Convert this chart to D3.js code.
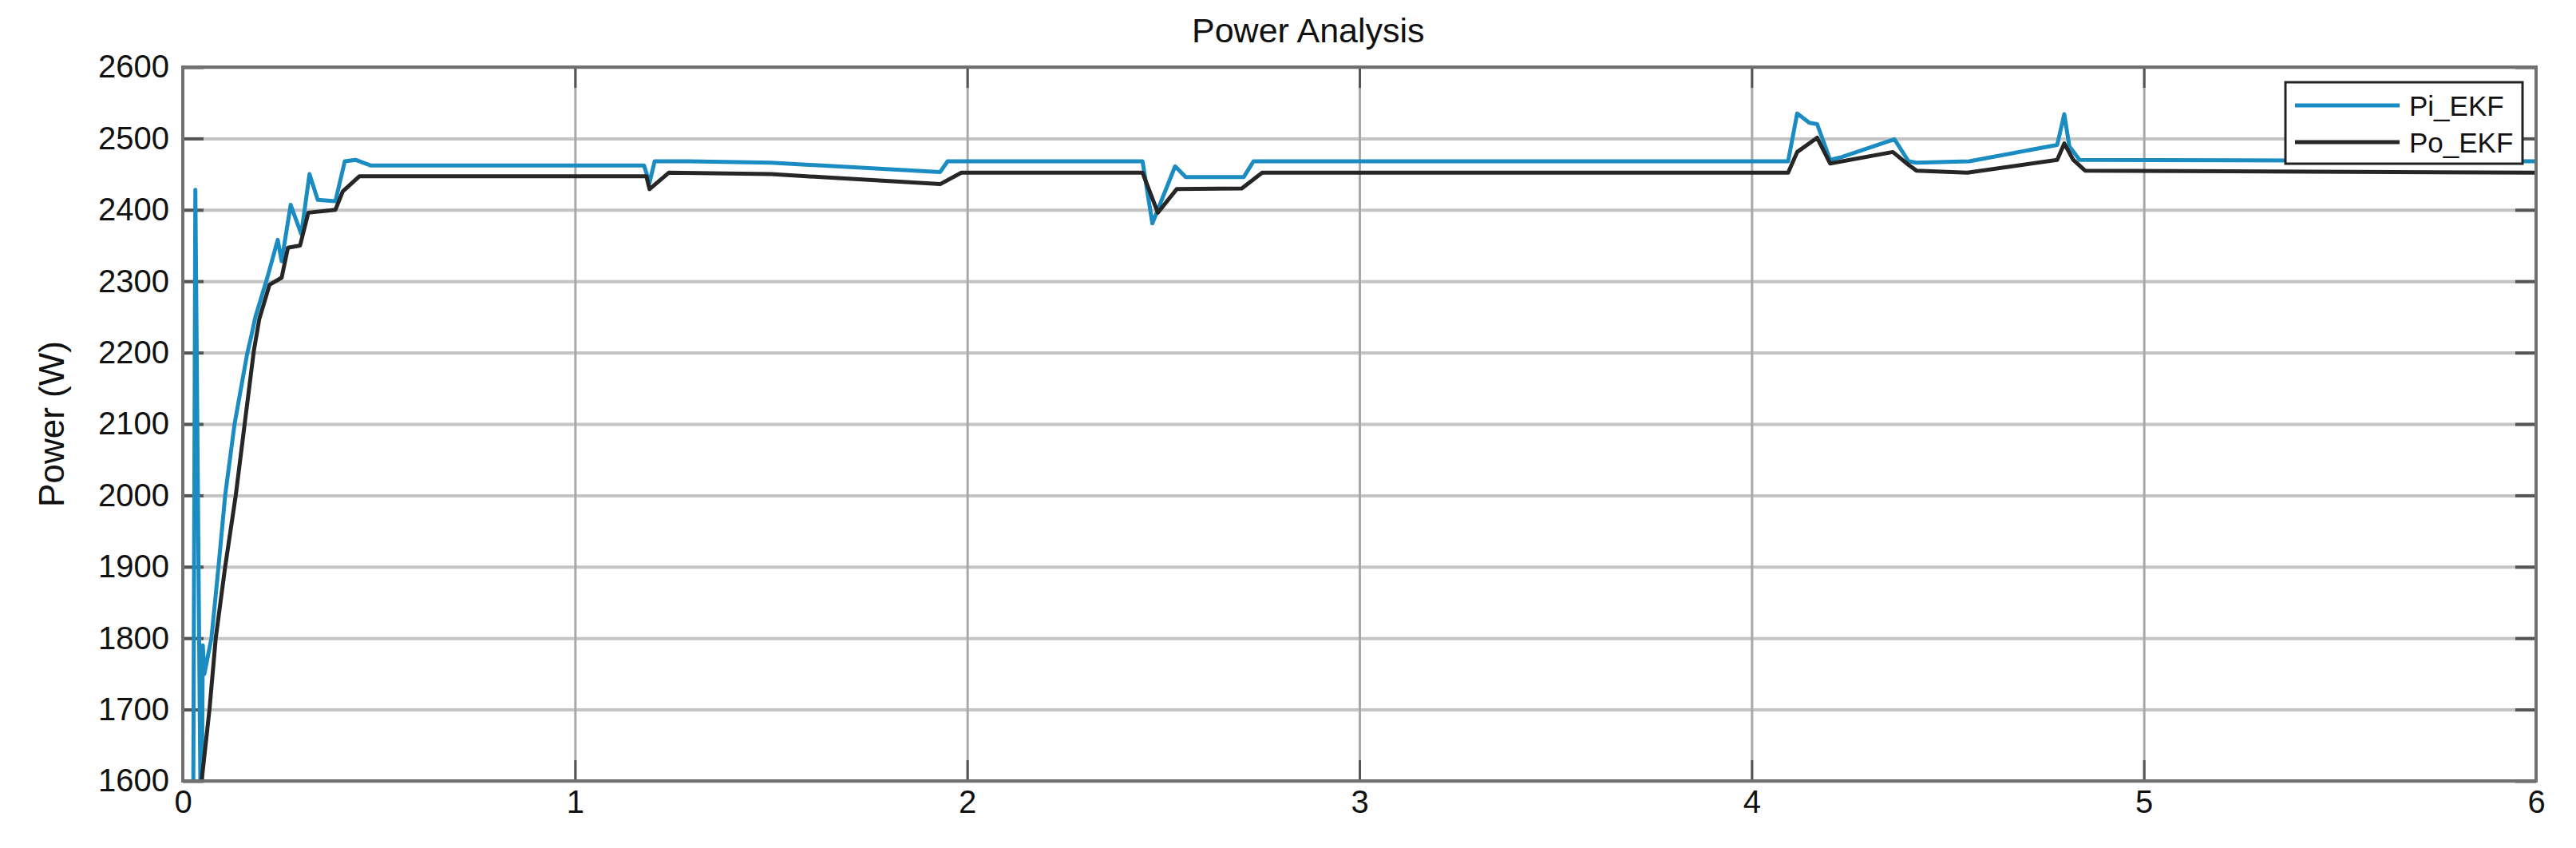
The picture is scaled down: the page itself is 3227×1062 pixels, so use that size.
<!DOCTYPE html>
<html>
<head>
<meta charset="utf-8">
<script src="https://cdn.jsdelivr.net/npm/d3@7"></script>
<style>
  body { margin: 0; background: #fff; }
  text { font-family: "Liberation Sans", Arial, sans-serif; fill: #111; }
</style>
</head>
<body>
<div id="chart"></div>
<script>
// ---- data ----
const xTicks = [0, 1, 2, 3, 4, 5, 6];
const yTicks = [1600, 1700, 1800, 1900, 2000, 2100, 2200, 2300, 2400, 2500, 2600];
const seriesNames = ["Pi_EKF", "Po_EKF"];

// Pi_EKF (input power) time / value pairs
const piTime = [0, 0.025, 0.032, 0.047, 0.051, 0.055, 0.073, 0.091, 0.108, 0.132, 0.164, 0.175, 0.185,
  0.216, 0.242, 0.252, 0.275, 0.302, 0.323, 0.344, 0.389, 0.413, 0.44, 0.48, 1.176, 1.19, 1.203,
  1.29, 1.5, 1.931, 1.95, 2.447, 2.472, 2.53, 2.557, 2.705, 2.73, 4.093, 4.116, 4.147, 4.167, 4.2,
  4.23, 4.364, 4.4, 4.42, 4.555, 4.779, 4.797, 4.81, 4.836, 6];
const piPower = [1300, 1300, 2428, 1450, 1790, 1750, 1800, 1900, 2000, 2100, 2198, 2224, 2250,
  2306, 2358, 2328, 2407, 2366, 2450, 2414, 2412, 2468, 2470, 2462, 2462, 2438, 2468,
  2468, 2466, 2453, 2468, 2468, 2381, 2461, 2446, 2446, 2468, 2468, 2535, 2522, 2520, 2470,
  2474, 2499, 2468, 2466, 2468, 2491, 2534, 2489, 2470, 2468];

// Po_EKF (output power)
const poTime = [0, 0.04, 0.048, 0.068, 0.084, 0.108, 0.135, 0.16, 0.181, 0.195, 0.221, 0.252, 0.268,
  0.299, 0.32, 0.389, 0.408, 0.45, 1.182, 1.19, 1.239, 1.5, 1.931, 1.985, 2.447, 2.486, 2.534,
  2.7, 2.752, 4.093, 4.116, 4.167, 4.2, 4.36, 4.4, 4.42, 4.55, 4.779, 4.797, 4.82, 4.85, 6];
const poPower = [1200, 1450, 1600, 1700, 1800, 1900, 2000, 2110, 2202, 2247, 2295, 2305, 2347,
  2350, 2396, 2400, 2426, 2447, 2447, 2429, 2452, 2450, 2436, 2452, 2452, 2396, 2429,
  2430, 2452, 2452, 2481, 2501, 2465, 2481, 2463, 2455, 2452, 2470, 2493, 2470, 2455, 2452];

const colors = ["#1a8cc2", "#262626"];

// ---- layout ----
const svgWidth = 3227, svgHeight = 1062;
const plot = { left: 229, right: 3177, top: 84, bottom: 978 };

const svg = d3.select("#chart")
  .append("svg")
  .attr("width", svgWidth)
  .attr("height", svgHeight);

const x = d3.scaleLinear().domain([0, 6]).range([plot.left, plot.right]);
const y = d3.scaleLinear().domain([1600, 2600]).range([plot.bottom, plot.top]);

// grid lines
svg.append("g")
  .attr("class", "y-grid")
  .attr("transform", `translate(${plot.left},0)`)
  .call(d3.axisLeft(y).tickValues(yTicks).tickSize(-(plot.right - plot.left)).tickFormat(""))
  .call(g => g.select(".domain").remove())
  .call(g => g.selectAll("line").attr("stroke", "#c4c4c4").attr("stroke-width", 4));

svg.append("g")
  .attr("class", "x-grid")
  .attr("transform", `translate(0,${plot.bottom})`)
  .call(d3.axisBottom(x).tickValues(xTicks).tickSize(-(plot.bottom - plot.top)).tickFormat(""))
  .call(g => g.select(".domain").remove())
  .call(g => g.selectAll("line").attr("stroke", "#a8a8a8").attr("stroke-width", 3));

// inward tick marks on all four sides (matlab style)
const tickLen = 26;
const tickColor = "#555";
svg.append("g")
  .call(d3.axisLeft(y).tickValues(yTicks).tickSize(-tickLen).tickFormat(""))
  .attr("transform", `translate(${plot.left},0)`)
  .call(g => g.select(".domain").remove())
  .call(g => g.selectAll("line").attr("stroke", tickColor).attr("stroke-width", 4));
svg.append("g")
  .call(d3.axisRight(y).tickValues(yTicks).tickSize(-tickLen).tickFormat(""))
  .attr("transform", `translate(${plot.right},0)`)
  .call(g => g.select(".domain").remove())
  .call(g => g.selectAll("line").attr("stroke", tickColor).attr("stroke-width", 4));
svg.append("g")
  .call(d3.axisBottom(x).tickValues(xTicks).tickSize(-tickLen).tickFormat(""))
  .attr("transform", `translate(0,${plot.bottom})`)
  .call(g => g.select(".domain").remove())
  .call(g => g.selectAll("line").attr("stroke", tickColor).attr("stroke-width", 3));
svg.append("g")
  .call(d3.axisTop(x).tickValues(xTicks).tickSize(-tickLen).tickFormat(""))
  .attr("transform", `translate(0,${plot.top})`)
  .call(g => g.select(".domain").remove())
  .call(g => g.selectAll("line").attr("stroke", tickColor).attr("stroke-width", 3));

// lines
svg.append("clipPath")
  .attr("id", "plot-clip")
  .append("rect")
  .attr("x", plot.left)
  .attr("y", plot.top)
  .attr("width", plot.right - plot.left)
  .attr("height", plot.bottom - plot.top);

const line = d3.line()
  .x(d => x(d[0]))
  .y(d => y(d[1]));

const series = [
  d3.zip(piTime, piPower),
  d3.zip(poTime, poPower)
];

svg.append("g")
  .attr("clip-path", "url(#plot-clip)")
  .selectAll("path")
  .data(series)
  .join("path")
  .attr("d", line)
  .attr("fill", "none")
  .attr("stroke", (d, i) => colors[i])
  .attr("stroke-width", 5)
  .attr("stroke-linejoin", "round");

// box
svg.append("rect")
  .attr("x", plot.left)
  .attr("y", plot.top)
  .attr("width", plot.right - plot.left)
  .attr("height", plot.bottom - plot.top)
  .attr("fill", "none")
  .attr("stroke", "#707070")
  .attr("stroke-width", 4);

// tick labels
const intFormat = d3.format("d");
svg.append("g")
  .attr("transform", `translate(${plot.left},0)`)
  .call(d3.axisLeft(y).tickValues(yTicks).tickSize(0).tickPadding(17).tickFormat(intFormat))
  .call(g => g.select(".domain").remove())
  .call(g => g.selectAll("text").attr("font-size", 40).attr("font-family", "Liberation Sans, Arial, sans-serif").attr("fill", "#111"));

svg.append("g")
  .attr("transform", `translate(0,${plot.bottom})`)
  .call(d3.axisBottom(x).tickValues(xTicks).tickSize(0).tickPadding(12).tickFormat(intFormat))
  .call(g => g.select(".domain").remove())
  .call(g => g.selectAll("text").attr("font-size", 40).attr("font-family", "Liberation Sans, Arial, sans-serif").attr("fill", "#111"));

// title and axis label
svg.append("text")
  .attr("x", 1493)
  .attr("y", 53)
  .attr("font-size", 43)
  .text("Power Analysis");

svg.append("text")
  .attr("transform", `translate(80,${(plot.top + plot.bottom) / 2}) rotate(-90)`)
  .attr("text-anchor", "middle")
  .attr("font-size", 44)
  .text("Power (W)");

// legend
const legendG = svg.append("g").attr("transform", "translate(2863,103)");
legendG.append("rect")
  .attr("width", 297)
  .attr("height", 102)
  .attr("fill", "#fff")
  .attr("stroke", "#222")
  .attr("stroke-width", 3);

const legendRow = legendG.selectAll(".legend-row")
  .data(seriesNames)
  .join("g")
  .attr("class", "legend-row")
  .attr("transform", (d, i) => `translate(0,${29 + i * 46})`);

legendRow.append("line")
  .attr("x1", 12)
  .attr("x2", 143)
  .attr("stroke", (d, i) => colors[i])
  .attr("stroke-width", 5);

legendRow.append("text")
  .attr("x", 155)
  .attr("y", 13)
  .attr("font-size", 35)
  .text(d => d);
</script>
</body>
</html>
